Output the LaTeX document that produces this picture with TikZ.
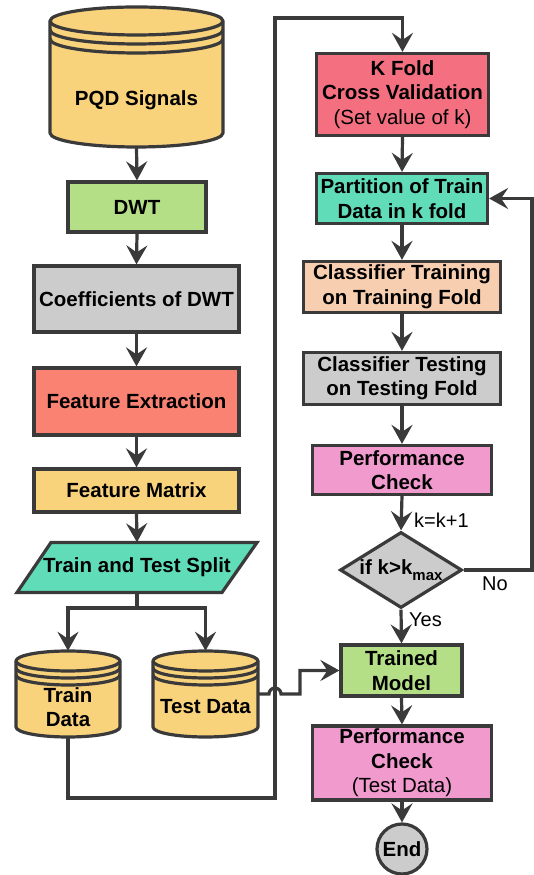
\documentclass[tikz,border=0pt]{standalone}
\usepackage{fontspec}
\setmainfont{Liberation Sans}
\usetikzlibrary{arrows.meta,shapes.geometric,calc}
\definecolor{lc}{HTML}{3A3A3A}
\definecolor{yel}{HTML}{F9D27C}
\definecolor{grn}{HTML}{B4DF87}
\definecolor{gry}{HTML}{CCCCCC}
\definecolor{sal}{HTML}{F98272}
\definecolor{tea}{HTML}{60DDB8}
\definecolor{kred}{HTML}{F46F80}
\definecolor{pch}{HTML}{F7CEB0}
\definecolor{pnk}{HTML}{F09ACE}
\newcommand\drawcyl[6]{%
  \filldraw[draw=lc, line width=3.2pt, fill=yel, line join=round]
    (#1-#4,#2-#5) -- (#1-#4,#3+#5)
    arc[start angle=180,end angle=360,x radius=#4,y radius=#5]
    -- (#1+#4,#2-#5)
    arc[start angle=0,end angle=180,x radius=#4,y radius=#5] -- cycle;
  \draw[lc, line width=3.2pt] (#1-#4,#2-#5) arc[start angle=180,end angle=360,x radius=#4,y radius=#5];
  \draw[lc, line width=3.2pt] (#1-#4,#2-#5-#6) arc[start angle=180,end angle=360,x radius=#4,y radius=#5];
  \draw[lc, line width=3.2pt] (#1-#4,#2-#5-2*#6) arc[start angle=180,end angle=360,x radius=#4,y radius=#5];
}
\tikzset{
  box/.style={draw=lc, line width=3.2pt, rectangle, inner sep=0pt, align=center,
    font=\bfseries\fontsize{20.5}{24.5}\selectfont},
  ghost/.style={rectangle, inner sep=0pt, draw=none},
  txt/.style={inner sep=0pt, align=center, font=\bfseries\fontsize{20.5}{24.5}\selectfont},
  lbl/.style={inner sep=0pt, font=\fontsize{20}{24}\selectfont},
  ln/.style={draw=lc, line width=3.2pt},
  arr/.style={draw=lc, line width=3.2pt, -{Stealth[length=19pt,width=21pt,inset=7pt]}},
}
\begin{document}
\begin{tikzpicture}[x=1pt,y=1pt]
\useasboundingbox (0,0) rectangle (534,875);
% left column
\drawcyl{136.5}{868}{728}{86.5}{14}{9}
\node[ghost, minimum width=173pt, minimum height=140pt] (pqd) at (136.5,798) {};
\node[txt] (pqdt) at (136.5,775) {PQD Signals};
\node[box, fill=grn, minimum width=138pt, minimum height=50pt] (dwt) at (137,668) {DWT};
\node[box, fill=gry, minimum width=205pt, minimum height=66pt] (coef) at (136.5,576) {Coefficients of DWT};
\node[box, fill=sal, minimum width=205pt, minimum height=67pt] (fext) at (136.5,473.5) {Feature Extraction};
\node[box, fill=yel, minimum width=205pt, minimum height=43pt] (fmat) at (136.5,384.5) {Feature Matrix};
\filldraw[draw=lc, line width=3.2pt, fill=tea] (51,332.5) -- (257,332.5) -- (222,282.5) -- (17,282.5) -- cycle;
\node[ghost, txt, minimum width=170pt, minimum height=50pt] (split) at (137,307.5) {Train and Test Split};
\drawcyl{68}{224}{138}{52}{10}{7}
\node[ghost, minimum width=104pt, minimum height=86pt] (train) at (68,181) {};
\node[txt] (traint) at (68,168) {Train\\Data};
\drawcyl{205.5}{224}{138}{52.5}{10}{7}
\node[ghost, minimum width=105pt, minimum height=86pt] (test) at (205.5,181) {};
\node[txt] (testt) at (205.5,168) {Test Data};
% right column
\node[box, fill=kred, minimum width=172pt, minimum height=82pt] (kfold) at (402.5,780.5) {K Fold\\Cross Validation\\{\mdseries (Set value of k)}};
\node[box, fill=tea, minimum width=171pt, minimum height=50pt] (part) at (402,676.5) {Partition of Train\\Data in k fold};
\node[box, fill=pch, minimum width=197pt, minimum height=51pt] (ctrain) at (402,588) {Classifier Training\\on Training Fold};
\node[box, fill=gry, minimum width=197pt, minimum height=52pt] (ctest) at (402,496.5) {Classifier Testing\\on Testing Fold};
\node[box, fill=pnk, minimum width=179pt, minimum height=49pt] (perf) at (402,405) {Performance\\Check};
\node[box, shape=diamond, aspect=1.6, fill=gry, minimum width=122pt, minimum height=76pt] (dec) at (401,305) {if k>k\raisebox{-0.3em}{\fontsize{15}{15}\selectfont max}};
\node[box, fill=grn, minimum width=121pt, minimum height=51pt] (trained) at (401.5,204.5) {Trained\\Model};
\node[box, fill=pnk, minimum width=179pt, minimum height=74pt] (perf2) at (402,112) {Performance\\Check\\{\mdseries (Test Data)}};
\node[box, shape=circle, fill=gry, minimum size=50pt] (end) at (402,26) {End};
% labels
\node[lbl, anchor=west] (kk) at (414,355) {k=k+1};
\node[lbl] (no) at (495,291) {No};
\node[lbl, anchor=west] (yes) at (409,255) {Yes};
% connectors
\draw[arr] (pqd.south) -- (dwt.north);
\draw[arr] (dwt.south) -- (coef.north);
\draw[arr] (coef.south) -- (fext.north);
\draw[arr] (fext.south) -- (fmat.north);
\draw[arr] (fmat.south) -- (split.north);
\draw[ln] (split.south) -- (137,267);
\draw[arr] (137,267) -| (train.north);
\draw[arr] (137,267) -| (test.north);
\draw[arr] (train.south) |- (275,77) -- (275,857) -| (kfold.north);
\draw[arr] (test.east) -- (269,181) arc[start angle=180,end angle=0,radius=6] -- (300,181) |- (trained.west);
\draw[arr] (kfold.south) -- (part.north);
\draw[arr] (part.south) -- (ctrain.north);
\draw[arr] (ctrain.south) -- (ctest.north);
\draw[arr] (ctest.south) -- (perf.north);
\draw[arr] (perf.south) -- (dec.north);
\draw[arr] (dec.east) -- (532,305) |- (part.east);
\draw[arr] (dec.south) -- (trained.north);
\draw[arr] (trained.south) -- (perf2.north);
\draw[arr] (perf2.south) -- (end.north);
\end{tikzpicture}
\end{document}
